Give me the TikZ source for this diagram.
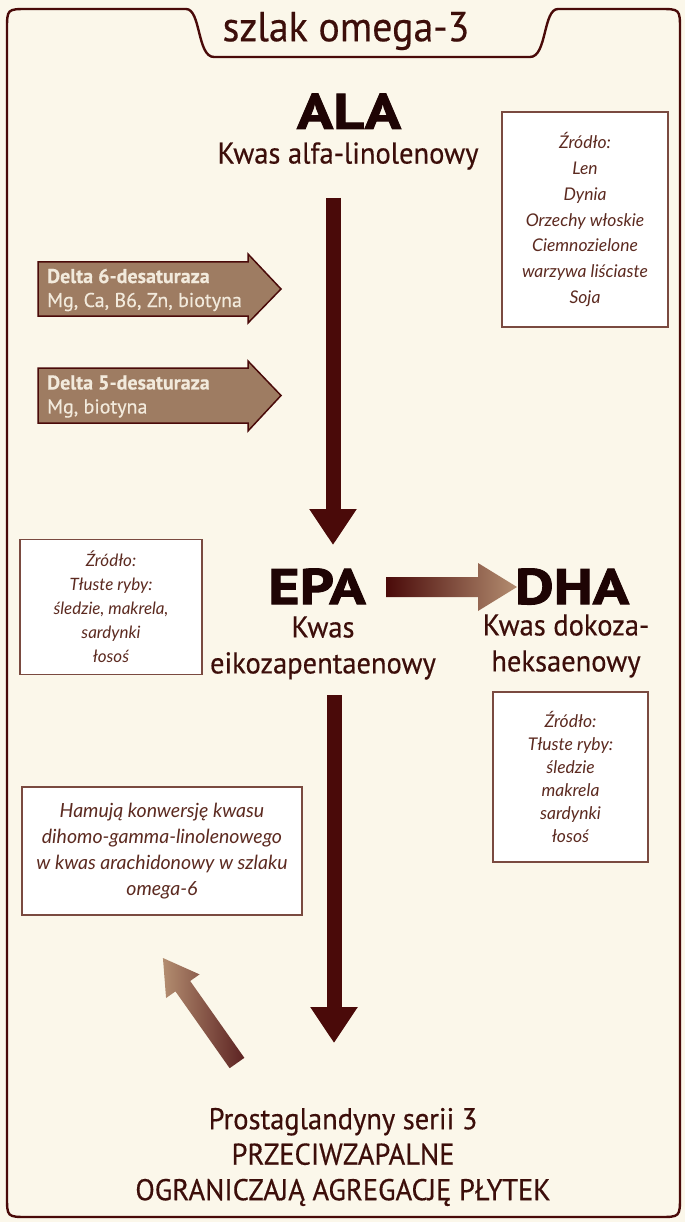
\documentclass[tikz,border=0pt]{standalone}
\usepackage{fontspec}
\setmainfont{PT Sans}[FakeBold=0.4]
\newfontfamily\heavyfont{PT Sans}[UprightFont={* Bold}, FakeBold=2, FakeStretch=1.2]
\newfontfamily\acidfont{PT Sans}[FakeBold=0.4, FakeStretch=0.95]
\newfontfamily\boxfont{Lato}
\usetikzlibrary{arrows.meta}
\definecolor{cream}{HTML}{FBF7EA}
\definecolor{maroon}{HTML}{4A0A09}
\definecolor{tan}{HTML}{9E7C62}
\definecolor{lighttan}{HTML}{B38D70}
\definecolor{inkbrown}{HTML}{3C0E0A}
\definecolor{boxbrown}{HTML}{7A4A40}
\definecolor{boxtext}{HTML}{5C2A20}
\definecolor{enzink}{HTML}{F2EADC}

\begin{document}
\begin{tikzpicture}[x=1pt, y=-1pt,
    every node/.style={inner sep=0pt, text=inkbrown},
    frame/.style={draw=maroon, line width=2.4pt},
    big/.style={font=\heavyfont\fontsize{50}{50}\selectfont, text=black!60!maroon, anchor=base},
    acid/.style={font=\acidfont\fontsize{30}{36}\selectfont, align=center},
    src/.style={draw=boxbrown, line width=1.2pt, fill=white, text=boxtext,
        font=\boxfont\itshape\fontsize{17}{24}\selectfont, align=center},
    pipe/.style={maroon, line width=15pt, -{Triangle[length=36pt, width=45pt]}},
    enz/.style={fill=tan, draw=maroon, line width=1.5pt},
    enztext/.style={text=enzink, font=\fontsize{20}{24}\selectfont, align=left, anchor=west}]
\fill[cream] (0,0) rectangle (685,1222);
\useasboundingbox (0,0) rectangle (685,1222);
% frame with title tab
\draw[frame] (7,30) .. controls (7,9) .. (28,9) -- (186,9)
    .. controls (201,9) and (197,57) .. (214,57) -- (530,57)
    .. controls (547,57) and (543,9) .. (558,9) -- (659,9)
    .. controls (680,9) .. (680,30) -- (680,1196)
    .. controls (680,1217) .. (659,1217) -- (28,1217)
    .. controls (7,1217) .. (7,1196) -- cycle;
\node[font=\acidfont\fontsize{42}{42}\selectfont] (title) at (346,31) {szlak omega-3};

% acids
\node[big] (ala) at (349,129) {ALA};
\node[acid] (kala) at (348,156) {Kwas alfa-linolenowy};
\node[big] (epa) at (317,604) {EPA};
\node[acid] (kepa) at (323,648) {Kwas\\eikozapentaenowy};
\node[big] (dha) at (572,604) {DHA};
\node[acid] (kdha) at (566,646) {Kwas dokoza-\\heksaenowy};
\node[acid, font=\acidfont\fontsize{30}{35.5}\selectfont] (prost) at (343,1157)
    {Prostaglandyny serii 3\\PRZECIWZAPALNE\\OGRANICZAJĄ AGREGACJĘ PŁYTEK};

% main pipes
\coordinate (ala-out) at (333,198);
\coordinate (epa-in) at (333,545);
\coordinate (epa-out) at (334,695);
\coordinate (prost-in) at (334,1043);
\draw[pipe] (ala-out) -- (epa-in);
\draw[pipe] (epa-out) -- (prost-in);

% EPA -> DHA
\shade[left color=maroon, right color=lighttan]
    (386,577) -- (478,577) -- (478,563) -- (517,587) -- (478,611) -- (478,597) -- (386,597) -- cycle;

% back arrow
\begin{scope}[shift={(237,1063)}, rotate=125.2]
\shade[left color=lighttan, right color=maroon!90]
    (0,-9) -- (94,-9) -- (94,-20.5) -- (128.5,0) -- (94,20.5) -- (94,9) -- (0,9) -- cycle;
\end{scope}

% enzymes
\draw[enz] (38,262) -- (248,262) -- (248,254) -- (281,289) -- (248,323) -- (248,316) -- (38,316) -- cycle;
\node[enztext] (d6) at (47,290) {\textbf{Delta 6-desaturaza}\\Mg, Ca, B6, Zn, biotyna};
\draw[enz] (38,368) -- (248,368) -- (248,361) -- (281,395.5) -- (248,431) -- (248,423) -- (38,423) -- cycle;
\node[enztext] (d5) at (47,396.5) {\textbf{Delta 5-desaturaza}\\Mg, biotyna};

% sources
\node[src, minimum width=166pt, minimum height=215pt, font=\boxfont\itshape\fontsize{17.5}{25.7}\selectfont] (src-ala) at (585,219.5)
    {Źródło:\\Len\\Dynia\\Orzechy włoskie\\Ciemnozielone\\warzywa liściaste\\Soja};
\node[src, minimum width=182pt, minimum height=135pt] (src-epa) at (111,607)
    {Źródło:\\Tłuste ryby:\\śledzie, makrela,\\sardynki\\łosoś};
\node[src, minimum width=155pt, minimum height=170pt, font=\boxfont\itshape\fontsize{17.5}{23}\selectfont] (src-dha) at (570.5,777)
    {Źródło:\\Tłuste ryby:\\śledzie\\makrela\\sardynki\\łosoś};
\node[src, minimum width=280pt, minimum height=128pt, font=\boxfont\itshape\fontsize{19.5}{26}\selectfont] (inhib) at (162,851)
    {Hamują konwersję kwasu\\dihomo-gamma-linolenowego\\w kwas arachidonowy w szlaku\\omega-6};
\end{tikzpicture}
\end{document}
